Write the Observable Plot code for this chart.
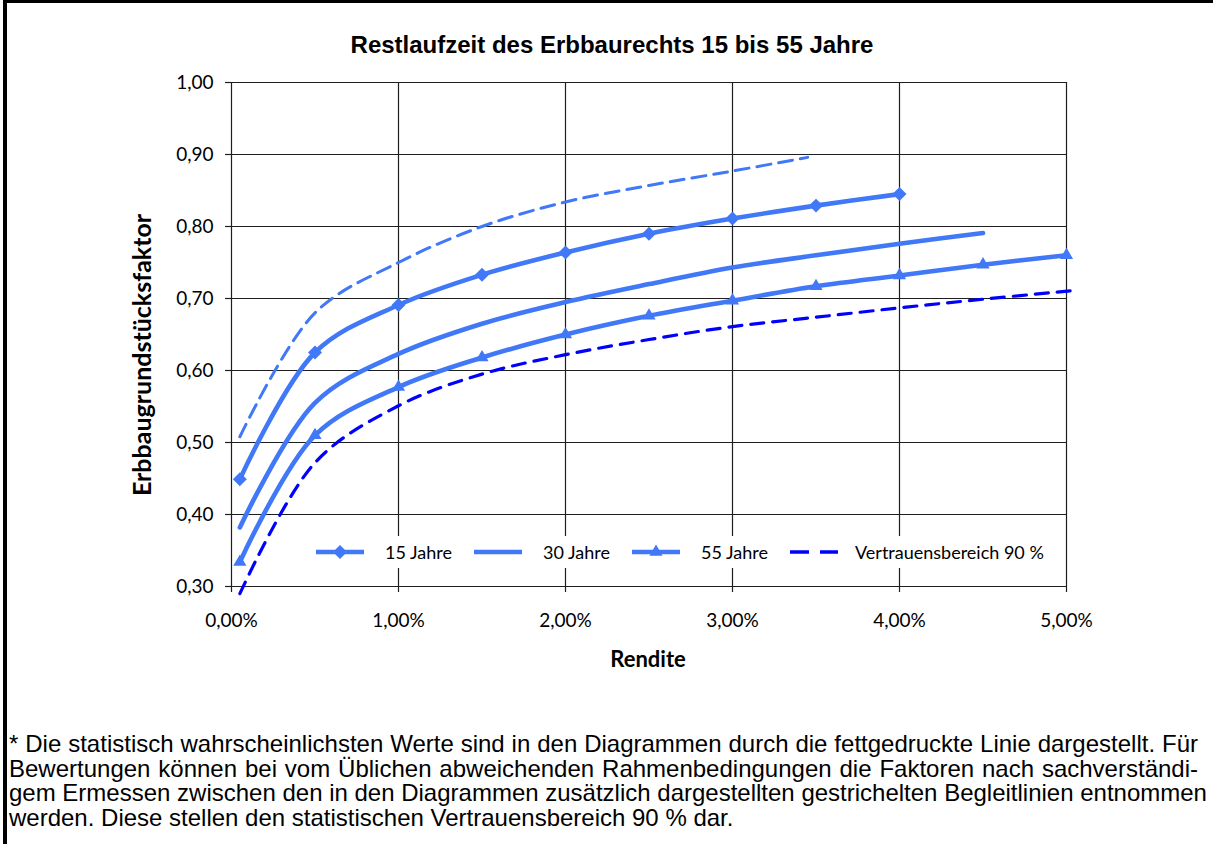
<!DOCTYPE html>
<html><head><meta charset="utf-8">
<script src="https://cdn.jsdelivr.net/npm/d3@7"></script>
<script src="https://cdn.jsdelivr.net/npm/@observablehq/plot@0.6"></script>
<style>
body{margin:0;background:#fff;}
#wrap{position:relative;width:1213px;height:844px;overflow:hidden;background:#fff;}
.abs{position:absolute;white-space:nowrap;line-height:1;}
.lg{font-family:Lato,sans-serif;font-size:18px;color:#000;}
.fn{position:absolute;left:9px;width:1189px;font-family:"Liberation Sans",Arial,sans-serif;font-size:24px;line-height:1;color:#000;white-space:nowrap;}
.fj{text-align:justify;text-align-last:justify;}
</style></head><body>
<div id="wrap">
  <div id="chart" class="abs" style="left:0;top:0"></div>
  <div class="abs" style="left:3px;top:0;width:1210px;height:3px;background:#000"></div>
  <div class="abs" style="left:3px;top:0;width:4px;height:844px;background:#000"></div>
  <div class="abs" id="title" style="left:612px;top:45px;transform:translate(-50%,-50%);font-family:'Liberation Sans',Arial,sans-serif;font-weight:bold;font-size:24px;">Restlaufzeit des Erbbaurechts 15 bis 55 Jahre</div>
  <div class="abs" id="ylab" style="left:141px;top:355px;transform:translate(-50%,-50%) rotate(-90deg);font-family:Lato,sans-serif;font-weight:bold;font-size:25px;">Erbbaugrundstücksfaktor</div>
  <div class="abs" id="xlab" style="left:648px;top:659px;transform:translate(-50%,-50%);font-family:Lato,sans-serif;font-weight:bold;font-size:22px;">Rendite</div>
  <div id="legend" class="abs" style="left:300px;top:536px;width:760px;height:32px;background:#fff;"></div>
  <div class="fn fj" style="top:732px">* Die statistisch wahrscheinlichsten Werte sind in den Diagrammen durch die fettgedruckte Linie dargestellt. Für</div>
  <div class="fn fj" style="top:756.5px">Bewertungen können bei vom Üblichen abweichenden Rahmenbedingungen die Faktoren nach sachverständi-</div>
  <div class="fn fj" style="top:781px">gem Ermessen zwischen den in den Diagrammen zusätzlich dargestellten gestrichelten Begleitlinien entnommen</div>
  <div class="fn" style="top:805.5px">werden. Diese stellen den statistischen Vertrauensbereich 90 % dar.</div>
</div>
<script>
// ---- data ----
const ticksX = [0, 1, 2, 3, 4, 5];           // Rendite in %
const ticksY = [0.3, 0.4, 0.5, 0.6, 0.7, 0.8, 0.9, 1.0];

const x15 = [0.05, 0.5, 1, 1.5, 2, 2.5, 3, 3.5, 4];
const y15 = [0.449, 0.625, 0.691, 0.733, 0.764, 0.790, 0.811, 0.829, 0.845];

const x30 = [0.05, 0.5, 1, 1.5, 2, 2.5, 3, 3.5, 4, 4.5];
const y30 = [0.382, 0.555, 0.623, 0.665, 0.695, 0.720, 0.743, 0.760, 0.776, 0.791];

const x55 = [0.05, 0.5, 1, 1.5, 2, 2.5, 3, 3.5, 4, 4.5, 5];
const y55 = [0.334, 0.510, 0.577, 0.618, 0.650, 0.676, 0.697, 0.717, 0.732, 0.747, 0.760];

const xUp = [0.05, 0.5, 1, 1.5, 2, 2.5, 3, 3.45];
const yUp = [0.508, 0.680, 0.750, 0.800, 0.834, 0.857, 0.877, 0.896];

const xLo = [0.05, 0.5, 1, 1.5, 2, 2.5, 3, 3.5, 4, 4.5, 5.04];
const yLo = [0.290, 0.472, 0.551, 0.595, 0.622, 0.643, 0.661, 0.674, 0.687, 0.699, 0.711];

const names = ["15 Jahre", "30 Jahre", "55 Jahre", "Vertrauensbereich 90 %"];

const LIGHT = "#4178f7", DARK = "#0000ff", GRID = "#1e1e1e";

const zip = (xs, ys) => xs.map((x, i) => ({x, y: ys[i]}));
const d15 = zip(x15, y15), d30 = zip(x30, y30), d55 = zip(x55, y55), dUp = zip(xUp, yUp), dLo = zip(xLo, yLo);
const fmtX = d => d.toFixed(2).replace(".", ",") + "%";
const fmtY = d => d.toFixed(2).replace(".", ",");
const R = 6.3;

const chart = Plot.plot({
  width: 1213, height: 650,
  marginLeft: 231, marginRight: 147, marginTop: 82, marginBottom: 64,
  x: {domain: [0, 5]},
  y: {domain: [0.3, 1.0]},
  style: {fontFamily: "Lato, sans-serif", color: "#000", background: "transparent", overflow: "visible"},
  marks: [
    Plot.gridX(ticksX, {stroke: GRID, strokeOpacity: 1, strokeWidth: 1.2}),
    Plot.gridY(ticksY, {stroke: GRID, strokeOpacity: 1, strokeWidth: 1.2}),
    Plot.axisX(ticksX, {tickSize: 6, tickPadding: 21, tickFormat: fmtX, label: null, fontSize: 19, stroke: GRID, strokeWidth: 1.2}),
    Plot.axisY(ticksY, {tickSize: 6, tickPadding: 12, tickFormat: fmtY, label: null, fontSize: 19, stroke: GRID, strokeWidth: 1.2}),
    Plot.line(dUp, {x: "x", y: "y", curve: "catmull-rom", stroke: LIGHT, strokeWidth: 3, strokeDasharray: "14,8"}),
    Plot.line(dLo, {x: "x", y: "y", curve: "catmull-rom", stroke: DARK, strokeWidth: 3.2, strokeDasharray: "13,9"}),
    Plot.line(d30, {x: "x", y: "y", curve: "catmull-rom", stroke: LIGHT, strokeWidth: 4.6}),
    Plot.line(d55, {x: "x", y: "y", curve: "catmull-rom", stroke: LIGHT, strokeWidth: 4.6}),
    Plot.line(d15, {x: "x", y: "y", curve: "catmull-rom", stroke: LIGHT, strokeWidth: 4.6}),
    Plot.dot(d15, {x: "x", y: "y", symbol: "diamond2", r: R, fill: LIGHT, stroke: "none"}),
    Plot.dot(d55, {x: "x", y: "y", symbol: "triangle2", r: R, fill: LIGHT, stroke: "none"})
  ]
});
document.getElementById("chart").appendChild(chart);

// ---- legend (HTML, inside the plot area) ----
const lg = document.getElementById("legend");
const items = [
  {name: names[0], sx: 16, tx: 85, color: LIGHT, w: 4.6, dash: null, sym: "diamond"},
  {name: names[1], sx: 174, tx: 243, color: LIGHT, w: 4.6, dash: null, sym: null},
  {name: names[2], sx: 332, tx: 401, color: LIGHT, w: 4.6, dash: null, sym: "triangle"},
  {name: names[3], sx: 490, tx: 555, color: DARK, w: 3.4, dash: "19,11", sym: null}
];
items.forEach(it => {
  const ns = "http://www.w3.org/2000/svg";
  const s = document.createElementNS(ns, "svg");
  s.setAttribute("width", 48); s.setAttribute("height", 20);
  s.style.position = "absolute"; s.style.left = it.sx + "px"; s.style.top = "6px";
  const l = document.createElementNS(ns, "line");
  l.setAttribute("x1", 0); l.setAttribute("x2", 48); l.setAttribute("y1", 10); l.setAttribute("y2", 10);
  l.setAttribute("stroke", it.color); l.setAttribute("stroke-width", it.w);
  if (it.dash) l.setAttribute("stroke-dasharray", it.dash);
  s.appendChild(l);
  if (it.sym) {
    const p = document.createElementNS(ns, "path");
    const type = it.sym === "diamond" ? d3.symbolDiamond2 : d3.symbolTriangle2;
    p.setAttribute("d", d3.symbol(type, R * R * Math.PI)());
    p.setAttribute("transform", "translate(24,10)");
    p.setAttribute("fill", it.color);
    s.appendChild(p);
  }
  lg.appendChild(s);
  const t = document.createElement("div");
  t.className = "abs lg"; t.textContent = it.name;
  t.style.left = it.tx + "px"; t.style.top = "16px"; t.style.transform = "translateY(-50%)";
  lg.appendChild(t);
});
</script>
</body></html>
